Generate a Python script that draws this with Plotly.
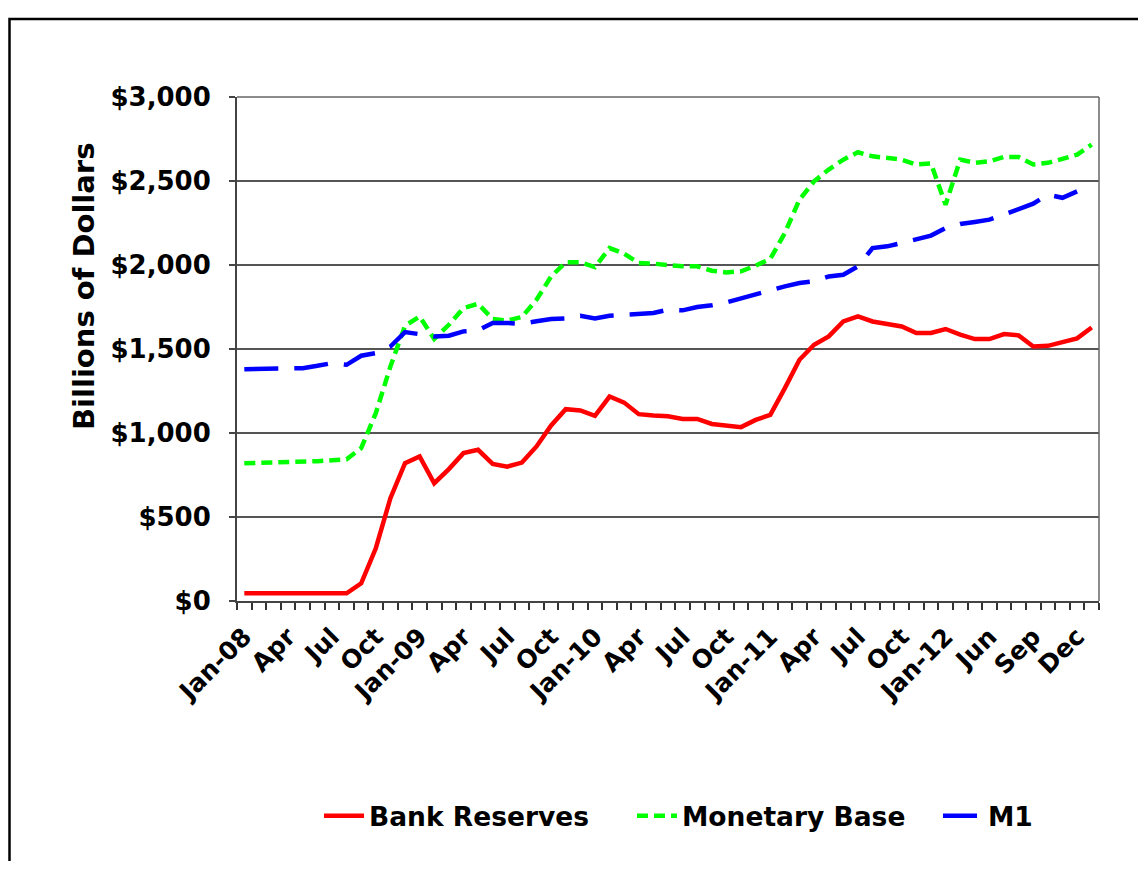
import plotly.graph_objects as go

# ---------------- data ----------------
months = (
    [f"{m}-{y}" for y in ["08", "09", "10", "11"]
     for m in ["Jan", "Feb", "Mar", "Apr", "May", "Jun", "Jul", "Aug", "Sep", "Oct", "Nov", "Dec"]]
    + ["Jan-12", "Mar-12", "May-12", "Jun-12", "Jul-12", "Aug-12", "Sep-12",
       "Oct-12", "Nov-12", "Dec-12", "Jan-13"]
)

tick_labels = ["Jan-08", "Apr", "Jul", "Oct", "Jan-09", "Apr", "Jul", "Oct",
               "Jan-10", "Apr", "Jul", "Oct", "Jan-11", "Apr", "Jul", "Oct",
               "Jan-12", "Jun", "Sep", "Dec"]

bank_reserves = [46, 46, 46, 46, 46, 46, 46, 46, 105, 314,
                 612, 820, 860, 701, 785, 880, 900, 816, 800, 824,
                 920, 1045, 1142, 1134, 1102, 1217, 1181, 1112, 1104, 1100,
                 1084, 1084, 1054, 1045, 1035, 1078, 1108, 1267, 1436, 1525,
                 1575, 1664, 1694, 1664, 1650, 1634, 1595, 1595, 1619, 1585,
                 1559, 1559, 1589, 1581, 1515, 1519, 1541, 1563, 1628]

monetary_base = [820, 822, 822, 823, 826, 832, 838, 844, 910, 1118,
                 1396, 1638, 1694, 1560, 1644, 1744, 1769, 1678, 1670, 1690,
                 1793, 1932, 2016, 2016, 1988, 2101, 2067, 2012, 2008, 1997,
                 1992, 1992, 1966, 1956, 1962, 1996, 2036, 2191, 2389, 2498,
                 2568, 2627, 2671, 2647, 2637, 2627, 2598, 2604, 2359, 2627,
                 2608, 2617, 2643, 2643, 2598, 2608, 2632, 2657, 2717]

m1 = [1380, 1380, 1382, 1383, 1386, 1400, 1416, 1406, 1460, 1476,
      1515, 1601, 1585, 1575, 1579, 1605, 1611, 1655, 1655, 1650,
      1665, 1678, 1682, 1698, 1682, 1698, 1704, 1708, 1714, 1734,
      1730, 1750, 1760, 1777, 1803, 1827, 1849, 1873, 1893, 1903,
      1932, 1942, 1992, 2101, 2111, 2131, 2155, 2175, 2220, 2244,
      2256, 2270, 2300, 2330, 2365, 2419, 2400, 2438, None]

# ---------------- figure ----------------
FONT = "DejaVu Sans"
PAGE_W, PAGE_H = 1146, 869
OFF = 8                       # default body margin of the html page
W, H = PAGE_W - 2 * OFF, PAGE_H - 2 * OFF
# plot area in page pixels: left 237, right 1099, top 97, bottom 601
L = 237 - OFF
R = W - (1099 - OFF)
T = 97 - OFF
B = H - (601 - OFF)

tick_text = [""] * len(months)
for k, lab in enumerate(tick_labels):
    tick_text[k * 3] = lab

pw = W - L - R
ph = H - T - B


def px_x(p):
    """page x pixel -> paper coordinate"""
    return (p - OFF - L) / pw


def px_y(p):
    """page y pixel -> paper coordinate"""
    return (H - B - (p - OFF)) / ph


fig = go.Figure()
fig.add_trace(go.Scatter(x=months, y=bank_reserves, name="Bank Reserves", mode="lines",
                         line=dict(color="#ff0000", width=4.5), legend="legend"))
fig.add_trace(go.Scatter(x=months, y=monetary_base, name="Monetary Base", mode="lines",
                         line=dict(color="#00ff00", width=4.5, dash="11px,6px"),
                         legend="legend2"))
fig.add_trace(go.Scatter(x=months, y=m1, name="M1", mode="lines",
                         line=dict(color="#0000ff", width=4.5, dash="34px,16px"),
                         legend="legend3"))

leg_font = dict(family=FONT, size=26.5, weight="bold", color="black")


def leg(text_start_px):
    return dict(orientation="h", x=px_x(text_start_px - 51), xanchor="left",
                y=px_y(816), yanchor="middle", font=leg_font,
                bgcolor="rgba(0,0,0,0)", itemwidth=40)


fig.update_layout(
    width=W, height=H,
    margin=dict(l=L, r=R, t=T, b=B, autoexpand=False),
    paper_bgcolor="white", plot_bgcolor="white",
    font=dict(family=FONT, color="black"),
    showlegend=True,
    legend=leg(370),
    legend2=leg(683),
    legend3=leg(989),
    xaxis=dict(type="category", tickmode="array", tickvals=months, ticktext=tick_text,
               tickson="boundaries", ticks="outside", ticklen=7, tickwidth=1.5,
               tickcolor="#333333", tickangle=-45, ticklabelstandoff=9,
               tickfont=dict(family=FONT, size=25, weight="bold", color="black"),
               showline=True, linecolor="#444444", linewidth=2, mirror=False,
               showgrid=False, range=[-0.5, len(months) - 0.5], zeroline=False),
    yaxis=dict(range=[0, 3000], dtick=500, tickprefix="$", tickformat=",.0f",
               ticks="outside", ticklen=6, tickwidth=1.5, tickcolor="#444444",
               ticklabelstandoff=13,
               tickfont=dict(family=FONT, size=26, weight="bold", color="black"),
               showline=True, linecolor="#444444", linewidth=2,
               showgrid=True, gridcolor="#555555", gridwidth=1.5, zeroline=False),
)

# plot-area top and right edges
fig.add_shape(type="line", xref="paper", yref="paper", x0=0, x1=1, y0=1, y1=1,
              line=dict(color="#666666", width=1.5))
fig.add_shape(type="line", xref="paper", yref="paper", x0=1, x1=1, y0=0, y1=1,
              line=dict(color="#666666", width=1.5))

# outer chart border (top and left visible)
fig.add_shape(type="rect", xref="paper", yref="paper",
              x0=px_x(OFF + 1.5), x1=px_x(1200), y0=px_y(950), y1=px_y(19),
              line=dict(color="black", width=2.5), fillcolor="rgba(0,0,0,0)", layer="below")

# y-axis title
fig.add_annotation(text="Billions of Dollars", xref="paper", yref="paper",
                   x=px_x(84), y=px_y(287), xanchor="center", yanchor="middle",
                   showarrow=False, textangle=-90,
                   font=dict(family=FONT, size=29, weight="bold", color="black"))

fig.write_html("out.html")
